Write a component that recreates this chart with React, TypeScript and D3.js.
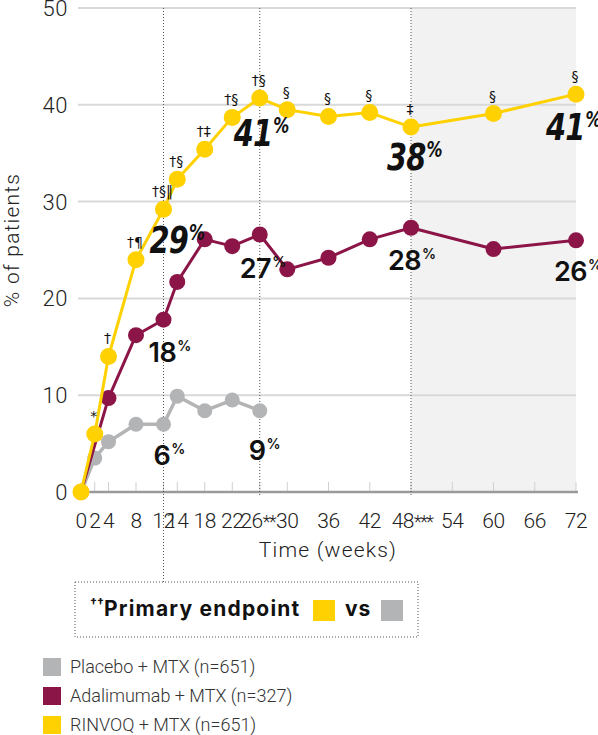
import React from 'react';
import * as d3 from 'd3';

// chart data
const rinvoqWeeks = [0, 2, 4, 8, 12, 14, 18, 22, 26, 30, 36, 42, 48, 60, 72];
const rinvoqValues = [0, 6.0, 14.0, 24.0, 29.2, 32.3, 35.4, 38.7, 40.7, 39.5, 38.8, 39.2, 37.7, 39.1, 41.1];
const rinvoqMarks = ['', '*', '†', '†¶', '†§‖', '†§', '†‡', '†§', '†§', '§', '§', '§', '‡', '§', '§'];

const adaWeeks = [0, 4, 8, 12, 14, 18, 22, 26, 30, 36, 42, 48, 60, 72];
const adaValues = [0, 9.7, 16.2, 17.8, 21.7, 26.1, 25.4, 26.6, 23.0, 24.2, 26.1, 27.3, 25.1, 26.0];

const placeboWeeks = [0, 2, 4, 8, 12, 14, 18, 22, 26];
const placeboValues = [0, 3.5, 5.2, 7.0, 7.0, 9.9, 8.4, 9.5, 8.4];

const xTicks = [0, 2, 4, 8, 12, 14, 18, 22, 26, 30, 36, 42, 48, 54, 60, 66, 72];
const xTickSuffix: Record<number, string> = { 26: '**', 48: '***' };
const yTicks = [0, 10, 20, 30, 40, 50];
const markerWeeks = [12, 26, 48];

const legendItems = ['Placebo + MTX (n=651)', 'Adalimumab + MTX (n=327)', 'RINVOQ + MTX (n=651)'];

// value callouts: series, week, text
const plainCallouts = [
  { series: 'placebo', week: 12, text: '6' },
  { series: 'placebo', week: 26, text: '9' },
  { series: 'ada', week: 12, text: '18' },
  { series: 'ada', week: 26, text: '27' },
  { series: 'ada', week: 48, text: '28' },
  { series: 'ada', week: 72, text: '26' },
];
const scriptCallouts = [
  { week: 12, text: '29' },
  { week: 26, text: '41' },
  { week: 48, text: '38' },
  { week: 72, text: '41' },
];

// layout offsets for callouts (left edge / baseline relative to the point)
const plainOffsets = [[-10, 41], [-11, 49], [-15, 42], [-20, 43], [-23, 42], [-22, 41]];
const scriptOffsets = [[-14, 44], [-26, 48], [-24, 43], [-30, 46]];

const YELLOW = '#FFD100';
const MAROON = '#8C1548';
const GREY = '#B3B4B6';
const FONT = 'Roboto, "Noto Sans", sans-serif';
const BOLD_FONT = 'Inter, Roboto, sans-serif';

export default function App() {
  const width = 598;
  const height = 735;

  const x = d3.scaleLinear().domain([0, 72]).range([81, 576]);
  const y = d3.scaleLinear().domain([0, 50]).range([492, 8]);

  const line = d3.line<[number, number]>()
    .x(d => x(d[0]))
    .y(d => y(d[1]));

  const series = {
    placebo: placeboWeeks.map((w, i) => [w, placeboValues[i]] as [number, number]),
    ada: adaWeeks.map((w, i) => [w, adaValues[i]] as [number, number]),
    rinvoq: rinvoqWeeks.map((w, i) => [w, rinvoqValues[i]] as [number, number]),
  };
  const valueAt = (key: 'placebo' | 'ada' | 'rinvoq', week: number) =>
    (series[key].find(d => d[0] === week) || [week, 0])[1];

  return (
    <div style={{ position: 'absolute', left: 0, top: 0 }}>
      <svg width={width} height={height} style={{ display: 'block', fontFamily: FONT }}>
        <rect width={width} height={height} fill="#fff" />

        {/* shaded extension period */}
        <rect x={x(48)} y={y(50)} width={x(72) - x(48)} height={y(0) - y(50)} fill="#F2F2F2" />

        {/* grid */}
        {yTicks.filter(t => t > 0).map(t => (
          <line key={t} x1={78} x2={x(72)} y1={y(t)} y2={y(t)} stroke="#D9D9D9" strokeWidth={2} />
        ))}
        {yTicks.map(t => (
          <text key={t} x={68} y={y(t) + 8} textAnchor="end" fontSize={22} fontWeight={300} fill="#222"
            letterSpacing={0.5}>{t}</text>
        ))}

        {/* x ticks */}
        {xTicks.map(t => (
          <line key={t} x1={x(t)} x2={x(t)} y1={y(0) - 10} y2={y(0)} stroke="#D0D0D0" strokeWidth={1} />
        ))}
        <line x1={78} x2={x(72) + 2} y1={y(0)} y2={y(0)} stroke="#9A9A9A" strokeWidth={2.5} />
        {xTicks.map(t => xTickSuffix[t] ? (
          <g key={t}>
            <text x={x(t) + 3} y={528} textAnchor="end" fontSize={21} fontWeight={300} fill="#222"
              letterSpacing={-0.5}>{t}</text>
            <text x={x(t) + 3} y={528} textAnchor="start" fontSize={18} fontWeight={300} fill="#222"
              letterSpacing={-1.5}>{xTickSuffix[t]}</text>
          </g>
        ) : (
          <text key={t} x={x(t)} y={528} textAnchor="middle" fontSize={21} fontWeight={300} fill="#222"
            letterSpacing={-0.5}>{t}</text>
        ))}
        <text x={328} y={557} textAnchor="middle" fontSize={21} fontWeight={300} fill="#222" letterSpacing={1.2}>
          Time (weeks)
        </text>
        <text transform={`translate(19,240) rotate(-90)`} textAnchor="middle" fontSize={21} fontWeight={300}
          fill="#222" letterSpacing={1.2}>
          % of patients
        </text>

        {/* dotted time markers */}
        {markerWeeks.map(w => (
          <line key={w} x1={x(w)} x2={x(w)} y1={y(50)} y2={w === 12 ? 582 : y(0) + 4}
            stroke="#555" strokeWidth={1} strokeDasharray="1,2" />
        ))}

        {/* series */}
        <path d={line(series.placebo) || ''} fill="none" stroke={GREY} strokeWidth={3.5} strokeLinejoin="round" />
        {series.placebo.map((d, i) => (
          <circle key={i} cx={x(d[0])} cy={y(d[1])} r={7.5} fill={GREY} />
        ))}
        <path d={line(series.ada) || ''} fill="none" stroke={MAROON} strokeWidth={3} strokeLinejoin="round" />
        {series.ada.map((d, i) => (
          <circle key={i} cx={x(d[0])} cy={y(d[1])} r={8} fill={MAROON} />
        ))}
        <path d={line(series.rinvoq) || ''} fill="none" stroke={YELLOW} strokeWidth={3} strokeLinejoin="round" />
        {series.rinvoq.map((d, i) => (
          <circle key={i} cx={x(d[0])} cy={y(d[1])} r={8.5} fill={YELLOW} />
        ))}

        {/* significance marks */}
        {series.rinvoq.map((d, i) => rinvoqMarks[i] ? (
          <text key={i} x={x(d[0]) - 1} y={y(d[1]) - 13} textAnchor="middle" fontSize={14} fill="#111"
            fontFamily='"DejaVu Sans", sans-serif'>
            {rinvoqMarks[i]}
          </text>
        ) : null)}

        {/* value callouts */}
        {plainCallouts.map((c, i) => {
          const px = x(c.week);
          const py = y(valueAt(c.series as 'placebo' | 'ada', c.week));
          return (
            <text key={i} x={px + plainOffsets[i][0]} y={py + plainOffsets[i][1]} fontSize={27} fontWeight={600}
              fill="#111" fontFamily={BOLD_FONT} letterSpacing={-0.5}>
              {c.text}
              <tspan fontSize={14} dy={-11} dx={1}>%</tspan>
            </text>
          );
        })}
        {scriptCallouts.map((c, i) => {
          const px = x(c.week);
          const py = y(valueAt('rinvoq', c.week));
          return (
            <text key={i} transform={`translate(${px + scriptOffsets[i][0]},${py + scriptOffsets[i][1]}) scale(0.76,1)`}
              fontSize={38} fontWeight={700} fontStyle="italic" fill="#111"
              fontFamily='"DejaVu Sans", sans-serif' letterSpacing={-1}>
              {c.text}
              <tspan fontSize={21} dy={-13} dx={1}>%</tspan>
            </text>
          );
        })}

        {/* primary endpoint box */}
        <rect x={75} y={582} width={343} height={55} fill="#fff" stroke="#555" strokeWidth={1} strokeDasharray="1,2" />
        <text x={90} y={616} fontSize={21} fontWeight={700} fill="#111" fontFamily={BOLD_FONT}>
          <tspan fontSize={12} dy={-9}>††</tspan>
          <tspan dy={9} letterSpacing={1.2}>Primary endpoint</tspan>
        </text>
        <rect x={313} y={600} width={22} height={21} fill={YELLOW} />
        <text x={345} y={616} fontSize={21} fontWeight={700} fill="#111" fontFamily={BOLD_FONT}
          letterSpacing={0.8}>vs</text>
        <rect x={381} y={600} width={22} height={21} fill={GREY} />

        {/* legend */}
        {legendItems.map((label, i) => (
          <g key={label} transform={`translate(43,${658 + i * 29})`}>
            <rect width={18} height={18} fill={[GREY, MAROON, YELLOW][i]} />
            <text x={27} y={15} fontSize={18} fontWeight={300} fill="#333">{label}</text>
          </g>
        ))}
      </svg>
    </div>
  );
}
